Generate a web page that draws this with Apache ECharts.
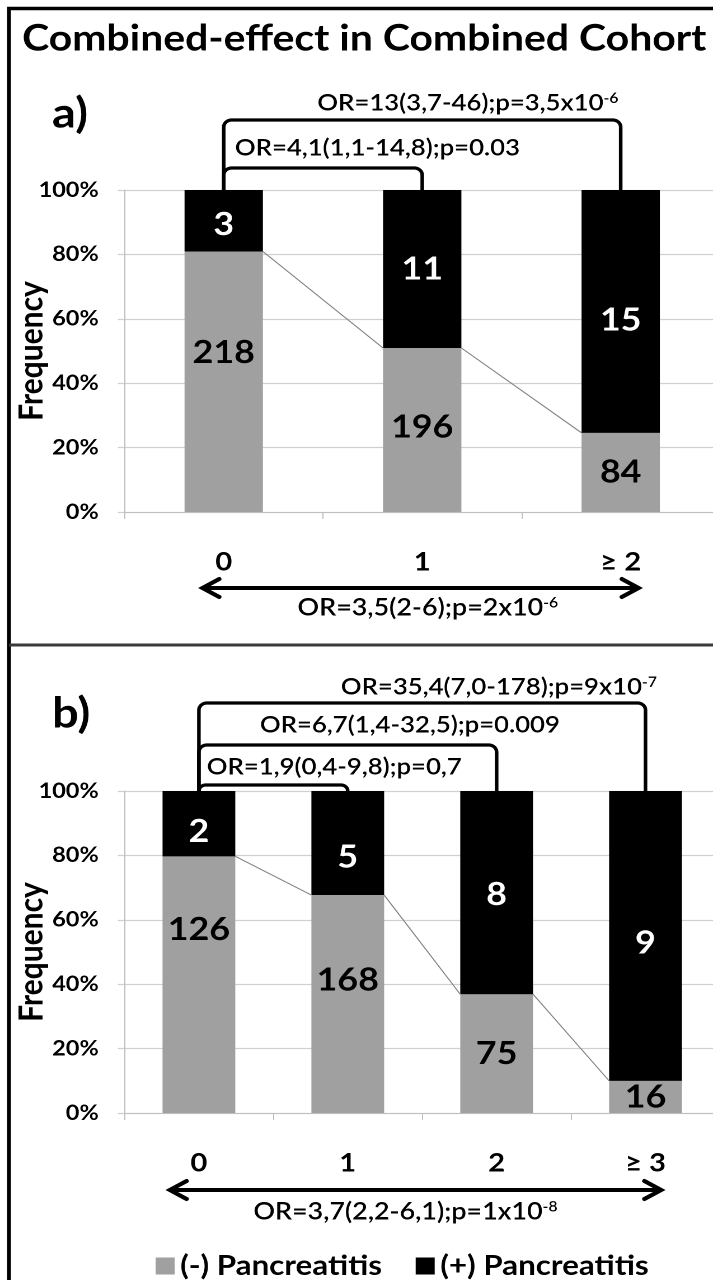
<!DOCTYPE html>
<html>
<head>
<meta charset="utf-8">
<script src="https://cdn.jsdelivr.net/npm/echarts@6/dist/echarts.min.js"></script>
<style>
  html, body { margin: 0; padding: 0; background: #fff; overflow: hidden; }
  /* the figure is laid out on a 637px-wide canvas and widened to 713px */
  #chart { width: 637px; height: 1280px; transform: scaleX(1.1193); transform-origin: 0 0; }
</style>
</head>
<body>
<div id="chart"></div>
<script>
// ---- data -------------------------------------------------------------
const categoriesA = ['0', '1', '≥ 2'];
const negativeA = [218, 196, 84];   // (-) Pancreatitis counts
const positiveA = [3, 11, 15];      // (+) Pancreatitis counts

const categoriesB = ['0', '1', '2', '≥ 3'];
const negativeB = [126, 168, 75, 16];
const positiveB = [2, 5, 8, 9];

const seriesNames = ['(-) Pancreatitis', '(+) Pancreatitis'];
const yMin = 0, yMax = 100, yStep = 20;

const pairTestsA = [
  { from: 0, to: 1, text: 'OR=4,1(1,1-14,8);p=0.03' },
  { from: 0, to: 2, text: 'OR=13(3,7-46);p=3,5x10{sup|-6}' }
];
const trendTestA = 'OR=3,5(2-6);p=2x10{sup|-6}';

const pairTestsB = [
  { from: 0, to: 1, text: 'OR=1,9(0,4-9,8);p=0,7' },
  { from: 0, to: 2, text: 'OR=6,7(1,4-32,5);p=0.009' },
  { from: 0, to: 3, text: 'OR=35,4(7,0-178);p=9x10{sup|-7}' }
];
const trendTestB = 'OR=3,7(2,2-6,1);p=1x10{sup|-8}';

const titleText = 'Combined-effect in Combined Cohort';
const panelTags = ['a)', 'b)'];

// ---- layout -----------------------------------------------------------
const FONT = 'Lato, "Open Sans", "DejaVu Sans", sans-serif';
const GREY = '#a0a0a0';
const GRID_LEFT = 111.2, GRID_W = 532, GRID_H = 322;

const layoutA = {
  top: 190, barWidth: 70,
  brackets: [
    { rise: 22, label: { at: 0, dx: 10, rise: 42, align: 'left' } },
    { rise: 70, label: { at: 2, dx: -2, rise: 87, align: 'right' } }
  ],
  arrow: { dxStart: -19, dxEnd: 16, drop: 76, labelAt: 1, labelDx: 5, labelDrop: 96 },
  nudgeNeg: [-29, -3, 0],
  nudgePos: [4, 0, 9]
};
const layoutB = {
  top: 791, barWidth: 65,
  brackets: [
    { rise: 6, label: { at: 0, dx: 7, rise: 24, align: 'left' } },
    { rise: 46, label: { at: 1.5, dx: -11, rise: 66, align: 'center' } },
    { rise: 88, label: { at: 2, dx: 2, rise: 104, align: 'center' } }
  ],
  arrow: { dxStart: -26, dxEnd: 14, drop: 77, labelAt: 1.5, labelDx: -15, labelDrop: 99 },
  nudgeNeg: [-55, -24, 0, 0],
  nudgePos: [8, 14, 2, 7]
};

const OR_STYLE = { fontFamily: FONT, fontSize: 23, fontWeight: 600, fill: '#000' };
const TREND_STYLE = Object.assign({}, OR_STYLE, { fontSize: 24 });
const SUP = { sup: { fontFamily: FONT, fontSize: 14, fontWeight: 600, fill: '#000', verticalAlign: 'top' } };

// Within-group frequency of each category, then scaled to 100% per bar
function toShares(neg, pos) {
  const tn = neg.reduce((a, b) => a + b, 0);
  const tp = pos.reduce((a, b) => a + b, 0);
  return neg.map((n, i) => {
    const fn = n / tn, fp = pos[i] / tp;
    return [100 * fn / (fn + fp), 100 * fp / (fn + fp)];
  });
}

function barSeries(gi, neg, pos, L) {
  const shares = toShares(neg, pos);
  const common = {
    type: 'bar', stack: 'g' + gi, xAxisIndex: gi, yAxisIndex: gi,
    barWidth: L.barWidth, silent: true,
    label: { show: true, position: 'inside', fontFamily: FONT, fontWeight: 'bold', fontSize: 32,
             formatter: p => p.data.count }
  };
  return [
    Object.assign({}, common, {
      name: seriesNames[0], itemStyle: { color: GREY },
      label: Object.assign({}, common.label, { color: '#000' }),
      data: neg.map((n, i) => ({ value: shares[i][0], count: n, label: { offset: [0, L.nudgeNeg[i]] } }))
    }),
    Object.assign({}, common, {
      name: seriesNames[1], itemStyle: { color: '#000' },
      label: Object.assign({}, common.label, { color: '#fff' }),
      data: pos.map((n, i) => ({ value: shares[i][1], count: n, label: { offset: [0, L.nudgePos[i]] } }))
    })
  ];
}

function arc(pts, cx, cy, r, a0, a1) {
  const n = 8;
  for (let k = 0; k <= n; k++) {
    const a = a0 + (a1 - a0) * k / n;
    pts.push([cx + r * Math.cos(a), cy + r * Math.sin(a)]);
  }
}

// brackets, trend arrow and series connector lines, placed through the axes
function annotationSeries(gi, cats, neg, pos, tests, trend, L) {
  const shares = toShares(neg, pos);
  const items = [];
  tests.forEach((t, k) => items.push({ kind: 'bracket', test: t, place: L.brackets[k] }));
  items.push({ kind: 'trend', text: trend });
  for (let i = 0; i + 1 < cats.length; i++) items.push({ kind: 'link', i });
  return {
    type: 'custom', xAxisIndex: gi, yAxisIndex: gi, clip: false, silent: true, z: 10,
    data: items.map(() => [0, 0]),
    renderItem(params, api) {
      const it = items[params.dataIndex];
      const xAt = c => {
        const i = Math.floor(c), f = c - i;
        const p0 = api.coord([i, 0])[0];
        return f ? p0 + f * (api.coord([i + 1, 0])[0] - p0) : p0;
      };
      const yTop = api.coord([0, yMax])[1];
      const yBase = api.coord([0, yMin])[1];
      if (it.kind === 'bracket') {
        const x1 = xAt(it.test.from), x2 = xAt(it.test.to);
        const yT = yTop - it.place.rise;
        const r = Math.min(7, it.place.rise);
        const pts = [[x1, yTop]];
        arc(pts, x1 + r, yT + r, r, Math.PI, 1.5 * Math.PI);
        arc(pts, x2 - r, yT + r, r, 1.5 * Math.PI, 2 * Math.PI);
        pts.push([x2, yTop]);
        const lp = it.place.label;
        return {
          type: 'group',
          children: [
            { type: 'polyline', shape: { points: pts },
              style: { stroke: '#000', lineWidth: 3.2, fill: null, lineJoin: 'round' } },
            { type: 'text', style: Object.assign({}, OR_STYLE, {
                text: it.test.text, x: xAt(lp.at) + lp.dx, y: yTop - lp.rise,
                align: lp.align, verticalAlign: 'middle', rich: SUP }) }
          ]
        };
      }
      if (it.kind === 'trend') {
        const A = L.arrow;
        const xs = xAt(0) + A.dxStart, xe = xAt(cats.length - 1) + A.dxEnd;
        const ya = yBase + A.drop, h = 15, hh = 9;
        const head = { stroke: '#000', lineWidth: 4, fill: null, lineJoin: 'miter', lineCap: 'round' };
        return {
          type: 'group',
          children: [
            { type: 'line', shape: { x1: xs + 2, y1: ya, x2: xe - 2, y2: ya },
              style: { stroke: '#000', lineWidth: 4 } },
            { type: 'polyline', shape: { points: [[xs + h, ya - hh], [xs, ya], [xs + h, ya + hh]] }, style: head },
            { type: 'polyline', shape: { points: [[xe - h, ya - hh], [xe, ya], [xe - h, ya + hh]] }, style: head },
            { type: 'text', style: Object.assign({}, TREND_STYLE, {
                text: it.text, x: xAt(A.labelAt) + A.labelDx, y: yBase + A.labelDrop,
                align: 'center', verticalAlign: 'middle', rich: SUP }) }
          ]
        };
      }
      // connector between the tops of neighbouring grey segments
      const i = it.i, bw = L.barWidth;
      return {
        type: 'line',
        shape: {
          x1: xAt(i) + bw / 2, y1: api.coord([i, shares[i][0]])[1],
          x2: xAt(i + 1) - bw / 2, y2: api.coord([i + 1, shares[i + 1][0]])[1]
        },
        style: { stroke: '#808080', lineWidth: 1 }
      };
    }
  };
}

function xAxis(gi, cats) {
  return {
    type: 'category', gridIndex: gi, data: cats,
    axisLine: { lineStyle: { color: '#bfbfbf', width: 1 } },
    axisTick: { show: true, length: 7, lineStyle: { color: '#bfbfbf' } },
    axisLabel: { margin: 37, color: '#000', fontFamily: FONT, fontWeight: 'bold', fontSize: 26 },
    splitLine: { show: false }
  };
}
function yAxis(gi) {
  return {
    type: 'value', gridIndex: gi, min: yMin, max: yMax, interval: yStep,
    name: 'Frequency', nameLocation: 'middle', nameGap: 68, nameRotate: 90, nameMoveOverlap: false,
    nameTextStyle: { color: '#000', fontFamily: FONT, fontWeight: 'bold', fontSize: 30 },
    axisLine: { show: true, lineStyle: { color: '#bfbfbf', width: 1 } },
    axisTick: { show: true, length: 6, lineStyle: { color: '#d0d0d0', width: 1.3 } },
    axisLabel: { margin: 23, color: '#000', fontFamily: FONT, fontWeight: 'bold', fontSize: 21,
                 formatter: '{value}%' },
    splitLine: { show: true, lineStyle: { color: '#d0d0d0', width: 1.3 } }
  };
}

const chart = echarts.init(document.getElementById('chart'), null, { renderer: 'canvas', devicePixelRatio: 2 });

chart.setOption({
  animation: false,
  backgroundColor: '#fff',
  grid: [
    { left: GRID_LEFT, top: layoutA.top, width: GRID_W, height: GRID_H, containLabel: false, outerBoundsMode: 'none' },
    { left: GRID_LEFT, top: layoutB.top, width: GRID_W, height: GRID_H, containLabel: false, outerBoundsMode: 'none' }
  ],
  xAxis: [xAxis(0, categoriesA), xAxis(1, categoriesB)],
  yAxis: [yAxis(0), yAxis(1)],
  legend: {
    data: seriesNames, left: 134, top: 1247, icon: 'rect',
    itemWidth: 17, itemHeight: 17, itemGap: 30, selectedMode: false,
    textStyle: { color: '#000', fontFamily: FONT, fontWeight: 'bold', fontSize: 28 }
  },
  graphic: [
    { type: 'rect', shape: { x: 8, y: 8.5, width: 900, height: 1400 },
      style: { stroke: '#000', lineWidth: 3.5, fill: null }, silent: true },
    { type: 'line', shape: { x1: 8, y1: 645, x2: 700, y2: 645 },
      style: { stroke: '#3a3a3a', lineWidth: 3 }, silent: true },
    { type: 'text', x: 19.7, y: 38.5,
      style: { text: titleText, fontFamily: FONT, fontWeight: 'bold', fontSize: 36.6, fill: '#000',
               align: 'left', verticalAlign: 'middle' } },
    { type: 'text', x: 46.5, y: 114,
      style: { text: panelTags[0], fontFamily: FONT, fontWeight: 'bold', fontSize: 42, fill: '#000',
               align: 'left', verticalAlign: 'middle' } },
    { type: 'text', x: 46.5, y: 714,
      style: { text: panelTags[1], fontFamily: FONT, fontWeight: 'bold', fontSize: 42, fill: '#000',
               align: 'left', verticalAlign: 'middle' } }
  ],
  series: [
    ...barSeries(0, negativeA, positiveA, layoutA),
    ...barSeries(1, negativeB, positiveB, layoutB),
    annotationSeries(0, categoriesA, negativeA, positiveA, pairTestsA, trendTestA, layoutA),
    annotationSeries(1, categoriesB, negativeB, positiveB, pairTestsB, trendTestB, layoutB)
  ]
});
</script>
</body>
</html>
